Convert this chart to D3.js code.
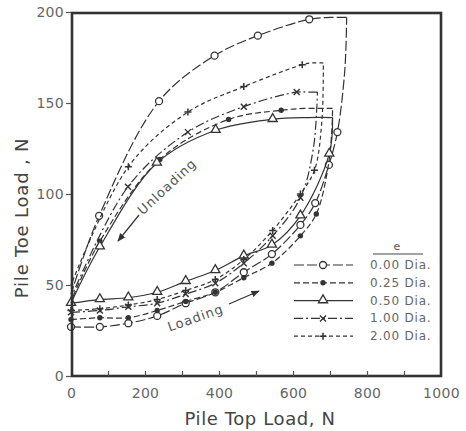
<!DOCTYPE html>
<html>
<head>
<meta charset="utf-8">
<script src="https://cdn.jsdelivr.net/npm/d3@7"></script>
<style>
    body { margin: 0; background: #fff; }
    svg { font-family: "DejaVu Sans", Arial, sans-serif; }
</style>
</head>
<body>
<div id="chart"></div>
<script>
// legend labels (eccentricity e)
var seriesNames = ["0.00 Dia.", "0.25 Dia.", "0.50 Dia.", "1.00 Dia.", "2.00 Dia."];
var xTicks = [0, 200, 400, 600, 800, 1000];
var yTicks = [0, 50, 100, 150, 200];

// [top load, toe load, measured point (1) or not]
var load000 = [[0,27,1],[78,27,1],[155,29,1],[233,33,1],[310,40,1],[390,46,1],[467,57,1],[543,67,1],[620,83,1],[660,95,1],[697,116,1],[720,134,1],[740,168],[745,197]];
var unload000 = [[745,197],[700,197],[644,196,1],[505,187,1],[388,176,1],[238,151,1],[76,88,1],[0,45]];

var load025 = [[0,31,1],[78,32,1],[155,32,1],[233,36,1],[310,41,1],[390,46,1],[467,54,1],[543,62,1],[620,77,1],[663,89,1],[695,115],[705,135],[707,147]];
var unload025 = [[707,147],[630,147],[568,146,1],[426,141,1],[240,119,1],[78,74,1],[0,41]];

var load050 = [[0,40,1],[78,42,1],[155,43,1],[233,46,1],[310,52,1],[390,58,1],[467,66,1],[543,72,1],[620,88,1],[698,122,1],[707,142]];
var unload050 = [[707,142],[640,142],[545,141,1],[391,135,1],[232,117,1],[78,71,1],[0,40]];

var load100 = [[0,35,1],[78,36,1],[155,38,1],[233,40,1],[310,45,1],[390,51,1],[467,62,1],[545,77,1],[620,98,1],[655,125],[666,156]];
var unload100 = [[666,156],[640,156],[610,156,1],[467,148,1],[316,134,1],[154,104,1],[0,43]];

var load200 = [[0,36,1],[78,37,1],[155,39,1],[233,42,1],[310,47,1],[390,53,1],[467,64,1],[545,80,1],[620,100,1],[658,113,1],[678,140],[682,172]];
var unload200 = [[682,172],[650,172],[625,171,1],[467,159,1],[316,145,1],[155,115,1],[0,50]];

var loads = [load000, load025, load050, load100, load200];
var unloads = [unload000, unload025, unload050, unload100, unload200];

var dashes = ["10,3", "6,3", null, "9,3,2,3", "4,3"];
var symbols = ["circle", "dot", "triangle", "cross", "plus"];

var width = 466, height = 431;
var margin = { top: 12, right: 25, bottom: 55, left: 71 };
var ink = "#333";

var svg = d3.select("#chart").append("svg")
    .attr("width", width)
    .attr("height", height);

var x = d3.scaleLinear().domain([0, 1000]).range([margin.left, width - margin.right]);
var y = d3.scaleLinear().domain([0, 200]).range([height - margin.bottom, margin.top]);

var line = d3.line()
    .x(function (d) { return x(d[0]); })
    .y(function (d) { return y(d[1]); })
    .curve(d3.curveCatmullRom.alpha(0.5));

function drawMarker(g, type, cx, cy) {
    if (type == "circle") {
        g.append("circle").attr("cx", cx).attr("cy", cy).attr("r", 3.5)
            .attr("fill", "#fff").attr("stroke", ink).attr("stroke-width", 1.3);
    } else if (type == "dot") {
        g.append("circle").attr("cx", cx).attr("cy", cy).attr("r", 2.7).attr("fill", ink);
    } else if (type == "triangle") {
        g.append("path")
            .attr("d", d3.symbol().type(d3.symbolTriangle).size(36)())
            .attr("transform", "translate(" + cx + "," + (cy - 0.5) + ")")
            .attr("fill", "#fff").attr("stroke", ink).attr("stroke-width", 1.3);
    } else if (type == "cross") {
        g.append("path")
            .attr("d", "M-3,-3L3,3M-3,3L3,-3")
            .attr("transform", "translate(" + cx + "," + cy + ")")
            .attr("stroke", ink).attr("stroke-width", 1.4);
    } else {
        g.append("path")
            .attr("d", "M-3.5,0H3.5M0,-3.5V3.5")
            .attr("transform", "translate(" + cx + "," + cy + ")")
            .attr("stroke", ink).attr("stroke-width", 1.5);
    }
}

// curves
var curves = svg.append("g");
seriesNames.forEach(function (name, i) {
    [loads[i], unloads[i]].forEach(function (pts) {
        curves.append("path")
            .attr("d", line(pts))
            .attr("fill", "none")
            .attr("stroke", ink)
            .attr("stroke-width", 1.2)
            .attr("stroke-dasharray", dashes[i]);
        pts.forEach(function (p) {
            if (p[2]) drawMarker(curves, symbols[i], x(p[0]), y(p[1]));
        });
    });
});

// frame
svg.append("rect")
    .attr("x", x(0) + 1).attr("y", y(200) + 1)
    .attr("width", x(1000) - x(0) - 1).attr("height", y(0) - y(200) - 1)
    .attr("fill", "none").attr("stroke", ink).attr("stroke-width", 2.6);

// x axis (ticks point inward)
svg.append("g")
    .attr("transform", "translate(0," + y(0) + ")")
    .call(d3.axisTop(x).tickValues(d3.range(100, 1000, 100)).tickSize(5).tickFormat(""))
    .call(function (g) { g.select(".domain").remove(); })
    .selectAll("line").attr("stroke", "#555").attr("stroke-width", 1.2);

svg.append("g")
    .attr("transform", "translate(0," + (y(0) + 6) + ")")
    .call(d3.axisBottom(x).tickValues(xTicks).tickSize(0).tickPadding(6).tickFormat(d3.format("d")))
    .call(function (g) { g.select(".domain").remove(); })
    .selectAll("text").attr("font-size", 14).attr("fill", "#666")
    .attr("letter-spacing", 0.3)
    .attr("font-family", "DejaVu Sans, Arial, sans-serif");

// y axis
svg.append("g")
    .attr("transform", "translate(" + x(0) + ",0)")
    .call(d3.axisLeft(y).tickValues(yTicks).tickSize(5).tickPadding(2))
    .call(function (g) { g.select(".domain").remove(); })
    .call(function (g) { g.selectAll("line").attr("stroke", "#555").attr("stroke-width", 1.2); })
    .selectAll("text").attr("font-size", 14).attr("fill", "#666")
    .attr("letter-spacing", 0.3)
    .attr("font-family", "DejaVu Sans, Arial, sans-serif");

// axis titles
svg.append("text")
    .attr("x", 260).attr("y", 425)
    .attr("text-anchor", "middle")
    .attr("font-size", 18).attr("letter-spacing", 0.6).attr("fill", "#444")
    .text("Pile Top Load, N");

svg.append("text")
    .attr("transform", "translate(28,218) rotate(-90)")
    .attr("text-anchor", "middle")
    .attr("font-size", 18).attr("letter-spacing", 0.8).attr("fill", "#444")
    .text("Pile Toe Load , N");

// annotations
svg.append("defs").append("marker")
    .attr("id", "arrow")
    .attr("viewBox", "0 0 10 10")
    .attr("refX", 9).attr("refY", 5)
    .attr("markerWidth", 7).attr("markerHeight", 7)
    .attr("orient", "auto")
    .append("path").attr("d", "M0,1L10,5L0,9Z").attr("fill", ink);

svg.append("text")
    .attr("transform", "translate(170,190) rotate(-43)")
    .attr("text-anchor", "middle")
    .attr("font-size", 13).attr("letter-spacing", 1).attr("fill", "#555")
    .text("Unloading");
svg.append("line")
    .attr("x1", 139).attr("y1", 215).attr("x2", 118).attr("y2", 241)
    .attr("stroke", ink).attr("stroke-width", 1.2).attr("marker-end", "url(#arrow)");

svg.append("text")
    .attr("transform", "translate(197,322) rotate(-19)")
    .attr("text-anchor", "middle")
    .attr("font-size", 13).attr("letter-spacing", 1).attr("fill", "#555")
    .text("Loading");
svg.append("line")
    .attr("x1", 229).attr("y1", 304).attr("x2", 259).attr("y2", 291)
    .attr("stroke", ink).attr("stroke-width", 1.2).attr("marker-end", "url(#arrow)");

// legend
var legend = svg.append("g");
legend.append("text")
    .attr("x", 397).attr("y", 250)
    .attr("text-anchor", "middle")
    .attr("font-size", 11).attr("fill", "#555")
    .text("e");
legend.append("line")
    .attr("x1", 373).attr("x2", 423).attr("y1", 254).attr("y2", 254)
    .attr("stroke", "#444").attr("stroke-width", 1);

seriesNames.forEach(function (name, i) {
    var ly = 265 + i * 17.8;
    legend.append("line")
        .attr("x1", 294).attr("x2", 353).attr("y1", ly).attr("y2", ly)
        .attr("stroke", ink).attr("stroke-width", 1.2)
        .attr("stroke-dasharray", dashes[i]);
    drawMarker(legend, symbols[i], 323, ly);
    legend.append("text")
        .attr("x", 370).attr("y", ly + 4)
        .attr("font-size", 12).attr("letter-spacing", 0.8).attr("fill", "#666")
        .text(name);
});
</script>
</body>
</html>
